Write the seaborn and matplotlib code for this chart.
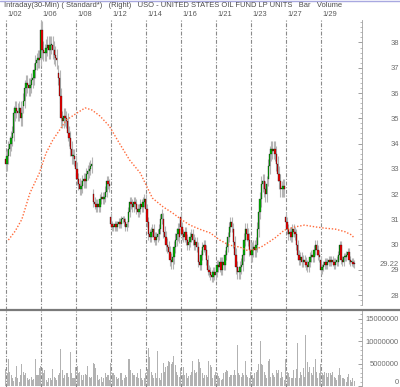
import numpy as np
import pandas as pd
import matplotlib
matplotlib.use("Agg")
import matplotlib.pyplot as plt
import matplotlib.transforms as mtransforms
from matplotlib.lines import Line2D
import seaborn as sns

sns.set_theme(style="white")
plt.rcParams['font.family'] = ['Liberation Sans', 'DejaVu Sans']

# ---------------- data ----------------
BARS_PER_DAY = 13
date_labels = ['1/02', '1/06', '1/08', '1/12', '1/14', '1/16', '1/21', '1/23', '1/27', '1/29']
label_days = [0, 2, 4, 6, 8, 10, 12, 14, 16, 18]

# open of first 30-min bar of each trading day
day_opens = [33.4, 35.5, 37.4, 36.8, 33.3, 32.0, 31.1, 30.9, 31.8, 31.0,
             31.1, 29.9, 28.8, 30.6, 29.8, 32.6, 31.1, 29.3, 29.4, 29.3]

closes = [
    33.2, 33.5, 33.8, 34.0, 34.2, 34.4, 35.2, 35.4, 35.3, 35.2, 35.4, 35.0, 35.2,  # 1/02
    35.7, 36.2, 36.4, 36.3, 36.2, 36.3, 36.5, 36.6, 36.9, 37.2, 37.3, 37.4, 37.3,  # 1/05
    38.5, 37.7, 37.6, 37.6, 37.8, 37.9, 37.7, 37.9, 37.9, 37.7, 37.5, 37.4, 37.3,  # 1/06
    36.6, 35.9, 35.0, 34.9, 35.1, 35.0, 34.9, 34.4, 34.2, 33.8, 33.5, 33.5, 33.4,  # 1/07
    33.0, 32.6, 32.4, 32.2, 32.3, 32.5, 32.6, 32.5, 32.8, 32.9, 33.0, 33.1, 33.2,  # 1/08
    31.7, 31.6, 31.5, 31.6, 31.5, 31.8, 31.9, 31.8, 31.9, 32.1, 32.5, 32.4, 32.3,  # 1/09
    30.8, 30.7, 30.7, 30.8, 30.7, 30.8, 30.9, 30.8, 31.0, 31.0, 30.9, 30.7, 30.8,  # 1/12
    31.3, 31.7, 31.6, 31.5, 31.7, 31.6, 31.4, 31.3, 31.4, 31.6, 31.5, 31.7, 31.8,  # 1/13
    31.4, 30.9, 30.4, 30.3, 30.5, 30.6, 30.3, 30.2, 30.3, 30.4, 30.6, 31.0, 31.2,  # 1/14
    30.5, 30.3, 30.0, 29.9, 29.7, 29.4, 29.3, 29.5, 29.9, 30.2, 30.4, 30.6, 30.3,  # 1/15
    30.7, 30.4, 30.3, 30.5, 30.2, 30.0, 30.1, 30.3, 30.4, 30.2, 30.0, 30.1, 29.9,  # 1/16
    29.3, 29.2, 29.6, 29.9, 30.0, 29.8, 29.4, 29.0, 28.9, 28.8, 28.7, 28.9, 28.8,  # 1/20
    28.9, 29.2, 29.1, 29.3, 29.0, 29.3, 29.2, 29.6, 29.9, 30.3, 30.7, 30.9, 30.7,  # 1/21
    30.1, 29.6, 29.1, 28.9, 28.9, 29.1, 29.2, 29.6, 30.2, 30.6, 30.4, 30.2, 29.8,  # 1/22
    29.6, 29.8, 29.9, 29.8, 30.0, 30.6, 31.3, 31.8, 32.4, 32.5, 32.2, 32.0, 32.4,  # 1/23
    33.1, 33.6, 33.8, 33.7, 33.8, 33.6, 33.2, 32.8, 32.5, 32.2, 32.2, 32.3, 32.2,  # 1/26
    30.9, 30.6, 30.4, 30.5, 30.3, 30.6, 30.5, 30.4, 30.0, 29.6, 29.4, 29.5, 29.3,  # 1/27
    29.4, 29.3, 29.2, 29.1, 29.3, 29.5, 29.6, 29.5, 29.8, 30.0, 29.8, 29.6, 29.5,  # 1/28
    29.0, 29.1, 29.2, 29.3, 29.2, 29.3, 29.4, 29.3, 29.4, 29.3, 29.2, 29.3, 29.4,  # 1/29
    29.6, 30.0, 29.4, 29.3, 29.5, 29.5, 29.6, 29.7, 29.4, 29.3, 29.3, 29.25, 29.22,  # 1/30
]

# typical wick reach beyond the candle body, per day
day_wick = [0.30, 0.30, 0.35, 0.30, 0.25, 0.20, 0.15, 0.20, 0.20, 0.25,
            0.20, 0.20, 0.20, 0.25, 0.30, 0.30, 0.20, 0.20, 0.15, 0.15]

volumes_m = [
    3.7, 2.8, 6.1, 3.2, 2.5, 1.7, 1.2, 2.0, 4.4, 1.8, 1.0, 2.5, 5.0,
    3.2, 2.5, 2.8, 1.7, 1.3, 1.5, 2.1, 1.3, 1.5, 6.0, 2.5, 2.5, 3.9,
    4.4, 3.9, 2.8, 3.5, 1.3, 1.0, 1.7, 1.7, 1.3, 3.7, 2.1, 1.7, 1.3,
    2.5, 2.8, 8.2, 3.5, 1.7, 2.5, 2.8, 3.0, 2.1, 7.5, 2.8, 1.7, 1.7,
    4.2, 4.5, 2.8, 3.2, 2.5, 1.3, 2.5, 2.7, 2.5, 4.4, 2.1, 1.7, 2.1,
    5.2, 5.0, 3.9, 2.5, 1.3, 1.5, 2.1, 1.0, 1.7, 3.0, 2.0, 2.5, 1.3,
    5.2, 2.8, 2.8, 2.5, 2.0, 1.5, 1.7, 2.8, 2.8, 1.3, 1.7, 2.5, 2.0,
    6.1, 6.0, 3.5, 2.8, 2.5, 2.5, 2.1, 2.8, 1.7, 3.7, 1.7, 1.3, 1.7,
    2.8, 3.7, 8.4, 6.5, 3.2, 2.5, 1.7, 2.8, 1.7, 7.7, 1.7, 1.3, 2.8,
    5.2, 3.2, 4.2, 4.4, 5.6, 5.3, 4.9, 5.3, 6.7, 4.6, 3.2, 2.5, 2.1,
    3.9, 2.5, 4.3, 2.5, 2.8, 1.7, 2.3, 2.5, 3.2, 5.6, 3.5, 2.8, 3.2,
    6.0, 5.4, 3.9, 2.8, 1.7, 2.5, 2.5, 2.0, 5.5, 4.7, 4.3, 1.7, 2.5,
    3.2, 2.8, 2.2, 1.7, 1.3, 1.5, 2.8, 3.2, 3.5, 3.4, 2.1, 2.5, 2.5,
    2.5, 3.5, 2.5, 9.1, 2.8, 2.5, 2.1, 2.8, 2.5, 5.6, 2.5, 2.1, 1.7,
    3.2, 2.5, 1.7, 2.8, 3.2, 3.5, 5.0, 10.1, 5.0, 4.6, 3.2, 2.5, 1.7,
    5.5, 6.0, 2.1, 2.8, 2.5, 2.0, 3.5, 2.8, 3.5, 1.7, 3.2, 2.0, 1.3,
    6.0, 3.2, 2.8, 2.0, 1.7, 1.7, 3.5, 1.7, 3.7, 9.5, 1.7, 3.2, 2.5,
    3.9, 2.1, 11.3, 5.4, 3.2, 4.3, 2.8, 2.5, 4.3, 6.1, 3.2, 1.7, 2.8,
    5.0, 2.8, 2.5, 3.2, 2.8, 2.1, 3.0, 3.0, 2.5, 3.2, 2.1, 1.7, 1.3,
    2.5, 3.9, 2.5, 1.7, 1.7, 1.5, 1.0, 2.0, 2.7, 1.3, 1.0, 1.7, 1.2,
]

# moving average (read at selected bars)
ma_bar = [2, 7, 12, 18, 25, 30, 35, 40, 45, 53, 59, 64, 70, 77, 83, 92, 100, 105, 109,
          117, 124, 131, 137, 144, 152, 159, 166, 174, 179, 183, 186, 191, 200, 207,
          215, 222, 230, 237, 245, 252, 257, 259]
ma_value = [30.18, 30.53, 31.0, 32.04, 32.83, 33.62, 34.14, 34.53, 34.93, 35.21, 35.41,
            35.33, 35.09, 34.69, 34.14, 33.35, 32.83, 32.28, 31.84, 31.49, 31.25, 30.97,
            30.77, 30.61, 30.46, 30.18, 29.98, 29.90, 29.78, 29.78, 29.82, 29.94, 30.26,
            30.57, 30.70, 30.77, 30.70, 30.65, 30.61, 30.51, 30.38, 30.25]

price_ticks = [28, 29, 30, 31, 32, 33, 34, 35, 36, 37, 38]
last_price = 29.22
volume_ticks = [0, 5000000, 10000000, 15000000]
title = "Intraday(30-Min) ( Standard*)   (Right)   USO - UNITED STATES OIL FUND LP UNITS   Bar   Volume"

# ---------------- derived frame ----------------
n = len(closes)
df = pd.DataFrame({"bar": np.arange(n), "close": closes,
                   "volume": np.array(volumes_m) * 1e6})
df["day"] = df["bar"] // BARS_PER_DAY
opens = df["close"].shift(1).to_numpy()
first = (df["bar"] % BARS_PER_DAY == 0).to_numpy()
opens[first] = np.array(day_opens)
df["open"] = opens
w = np.array(day_wick)[df["day"].to_numpy()]
df["high"] = np.maximum(df["open"], df["close"]) + w
df["low"] = np.minimum(df["open"], df["close"]) - w
df["up"] = df["close"] >= df["open"]

W, H = 400, 387
fig = plt.figure(figsize=(W / 100, H / 100), dpi=100)
fig.patch.set_facecolor("white")

def fx(px):
    return px / W

def fy(py):
    return 1 - py / H

ax = fig.add_axes([0, fy(310), fx(362), fy(20) - fy(310)])
axv = fig.add_axes([0, 0, fx(362), fy(311)])

xlim = (-4.23, 264.7)
grey_txt = "#6e6e6e"
LABEL_PAD = 26.5

# vertical day separators
for a in (ax, axv):
    for d in label_days:
        a.axvline(d * BARS_PER_DAY, color="#8a8a8a", lw=0.8,
                  dashes=(3.5, 1.5, 1, 1.5), zorder=0.5)

# wicks
ax.vlines(df["bar"], df["low"], df["high"], color="#b4b4b4", lw=0.8, zorder=1)
# bodies
body_bottom = np.minimum(df["open"], df["close"])
body_h = np.maximum((df["close"] - df["open"]).abs(), 0.04)
colors = np.where(df["up"], "#00b400", "#f00000")
ax.bar(df["bar"], body_h, bottom=body_bottom, width=0.95, color=colors,
       edgecolor="#101010", linewidth=0.22, zorder=2)

# moving average
ma_df = pd.DataFrame({"bar": ma_bar, "ma": ma_value})
sns.lineplot(data=ma_df, x="bar", y="ma", ax=ax, color="#ff6a3a", lw=1.0,
             linestyle=(0, (1, 1.3)), zorder=3, legend=False)

ax.set_xlim(*xlim)
ax.set_ylim(27.41, 38.89)
ax.set_xlabel("")
ax.set_ylabel("")
ax.set_xticks([])
ax.yaxis.tick_right()
ax.set_yticks(price_ticks)
ax.set_yticklabels([str(t) for t in price_ticks])
ax.set_yticks(np.arange(27.6, 38.9, 0.2), minor=True)
ax.tick_params(axis="y", which="major", direction="in", length=3, width=0.6,
               color="#909090", pad=LABEL_PAD, labelsize=5.5, labelcolor=grey_txt)
ax.tick_params(axis="y", which="minor", direction="in", length=1.2, width=0.5,
               color="#a0a0a0")
for lab in ax.get_yticklabels():
    lab.set_horizontalalignment("right")
lp_trans = mtransforms.offset_copy(
    mtransforms.blended_transform_factory(ax.transAxes, ax.transData),
    fig=fig, x=LABEL_PAD, y=0, units="points")
ax.text(1.0, last_price, f"{last_price:.2f}", transform=lp_trans,
        ha="right", va="center", fontsize=5.5, color=grey_txt, clip_on=False)
for s in ["left", "top", "bottom"]:
    ax.spines[s].set_visible(False)
ax.spines["right"].set_color("#a0a0a0")
ax.spines["right"].set_linewidth(0.6)
ax.spines["right"].set_bounds(27.6, 38.89)
ax.set_facecolor("white")

# volume
sns.barplot(data=df, x="bar", y="volume", ax=axv, native_scale=True,
            color="#b2b2b2", width=0.75, saturation=1, linewidth=0, zorder=1)
axv.set_xlim(*xlim)
axv.set_ylim(-0.22e6, 16.67e6)
axv.set_xlabel("")
axv.set_ylabel("")
axv.set_xticks([])
axv.yaxis.tick_right()
axv.set_yticks(volume_ticks)
axv.set_yticklabels([str(t) for t in volume_ticks])
axv.set_yticks(np.arange(0, 16.6e6, 1e6), minor=True)
axv.tick_params(axis="y", which="major", direction="in", length=3, width=0.6,
                color="#909090", pad=LABEL_PAD, labelsize=5.5, labelcolor=grey_txt)
axv.tick_params(axis="y", which="minor", direction="in", length=1.2, width=0.5,
                color="#a0a0a0")
for lab in axv.get_yticklabels():
    lab.set_horizontalalignment("right")
    if lab.get_text() == "0":
        lab.set_verticalalignment("bottom")
for s in ["left", "top", "bottom"]:
    axv.spines[s].set_visible(False)
axv.spines["right"].set_color("#a0a0a0")
axv.spines["right"].set_linewidth(0.6)
axv.set_facecolor("white")

# panel separator and top border
fig.add_artist(Line2D([0, 1], [fy(310), fy(310)], transform=fig.transFigure,
                      color="#7a7a7a", lw=1.6))
fig.add_artist(Line2D([0, 1], [fy(0.5), fy(0.5)], transform=fig.transFigure,
                      color="#a8a8e0", lw=1.0))

# title and date labels
fig.text(fx(4), fy(5.5), title, ha="left", va="center", fontsize=5.4, color="#4a4a4a")
trans = mtransforms.blended_transform_factory(ax.transData, fig.transFigure)
for d, lab in zip(label_days, date_labels):
    ax.text(d * BARS_PER_DAY + 1.1, fy(15), lab, transform=trans, ha="left",
            va="center", fontsize=5.4, color="#5a5a5a", clip_on=False)

fig.savefig("out.png", dpi=100, facecolor="white")
